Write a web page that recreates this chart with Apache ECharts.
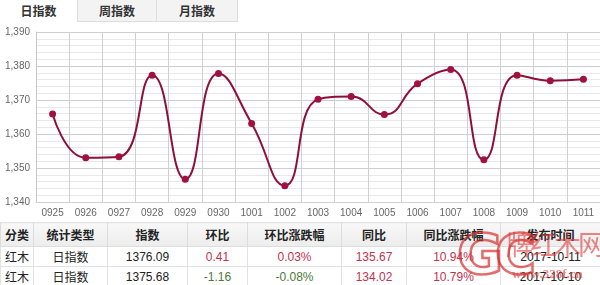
<!DOCTYPE html>
<html>
<head>
<meta charset="utf-8">
<script src="https://cdn.jsdelivr.net/npm/echarts@6/dist/echarts.min.js"></script>
<style>
  html, body { margin:0; padding:0; background:#fff; }
  body { width:600px; height:285px; position:relative; overflow:hidden; font-family:"Liberation Sans","Noto Sans CJK SC",sans-serif; }
  #chart { position:absolute; left:0; top:0; width:600px; height:222px; }
  .tab { position:absolute; top:0; height:22px; line-height:22px; text-align:center; font-size:12px; font-weight:bold; color:#333; font-family:"Noto Sans CJK SC",sans-serif; box-sizing:border-box; }
  #t1 { left:0; width:77px; background:#fff; }
  #t2 { left:77px; width:80px; background:#f3f3f3; border:1px solid #ddd; border-top:none; }
  #t3 { left:156px; width:82px; background:#f3f3f3; border:1px solid #ddd; border-top:none; }
  table { position:absolute; left:0; top:222px; width:600px; border-collapse:collapse; font-size:12px; color:#222; font-family:"Liberation Sans","Noto Sans CJK SC",sans-serif; table-layout:fixed; }
  th { height:23px; padding:0; background:linear-gradient(#f8f8f8,#ececec); font-weight:bold; border:1px solid #ddd; border-top:1px solid #e4e4e4; font-family:"Noto Sans CJK SC",sans-serif; }
  td { height:19px; padding:0; text-align:center; border:1px solid #e2e2e2; }
  .l { text-align:left; padding-left:4px; }
  .r { color:#c0334f; }
  .g { color:#4b7a3a; }
  .wm { position:absolute; white-space:nowrap; pointer-events:none; }
  #wm1 { left:457px; top:222px; font-size:56px; font-weight:bold; color:rgba(255,255,255,0); -webkit-text-stroke:2.5px rgba(215,45,45,0.7); font-family:"DejaVu Sans",sans-serif; letter-spacing:-8px; line-height:64px; }
  #wm2 { left:506px; top:228px; font-size:27px; color:rgba(225,55,55,0.6); font-family:"Noto Sans CJK SC",sans-serif; line-height:32px; letter-spacing:-3px; }
  #wm3 { left:512px; top:266px; font-size:13px; font-weight:bold; color:rgba(225,55,55,0.6); font-family:"Liberation Serif",serif; line-height:16px; }
</style>
</head>
<body>
<div id="chart"></div>
<div class="tab" id="t1">日指数</div>
<div class="tab" id="t2">周指数</div>
<div class="tab" id="t3">月指数</div>
<table>
  <colgroup>
    <col style="width:33px"><col style="width:74px"><col style="width:80px"><col style="width:60px"><col style="width:94px"><col style="width:65px"><col style="width:94px"><col style="width:100px">
  </colgroup>
  <tr><th class="l">分类</th><th>统计类型</th><th>指数</th><th>环比</th><th>环比涨跌幅</th><th>同比</th><th>同比涨跌幅</th><th>发布时间</th></tr>
  <tr><td class="l">红木</td><td>日指数</td><td>1376.09</td><td class="r">0.41</td><td class="r">0.03%</td><td class="r">135.67</td><td class="r">10.94%</td><td>2017-10-11</td></tr>
  <tr><td class="l">红木</td><td>日指数</td><td>1375.68</td><td class="g">-1.16</td><td class="g">-0.08%</td><td class="r">134.02</td><td class="r">10.79%</td><td>2017-10-10</td></tr>
</table>
<div class="wm" id="wm1">GC</div>
<div class="wm" id="wm2">牌红木网</div>
<div class="wm" id="wm3">www.328f.cn</div>
<script>
var categories = ["0925","0926","0927","0928","0929","0930","1001","1002","1003","1004","1005","1006","1007","1008","1009","1010","1011"];
var indexValues = [1365.9, 1353.0, 1353.3, 1377.3, 1346.7, 1377.8, 1363.1, 1344.8, 1370.2, 1371.0, 1365.7, 1374.8, 1379.0, 1352.4, 1377.3, 1375.68, 1376.09];
var yTicks = [1340, 1350, 1360, 1370, 1380, 1390];

var chart = echarts.init(document.getElementById('chart'));
chart.setOption({
  animation: false,
  grid: { left: 36, top: 32, width: 565, height: 170 },
  xAxis: {
    type: 'category',
    data: categories,
    boundaryGap: true,
    axisLine: { show: true, lineStyle: { color: '#d0d0d0' } },
    axisTick: { show: false },
    axisLabel: { color: '#666', fontSize: 10, margin: 6, fontFamily: 'Liberation Sans' },
    splitLine: { show: true, lineStyle: { color: '#d0d0d0', width: 1 } }
  },
  yAxis: {
    type: 'value',
    min: yTicks[0],
    max: yTicks[yTicks.length - 1],
    interval: 10,
    axisLine: { show: true, lineStyle: { color: '#c8c8c8' } },
    axisTick: { show: false },
    axisLabel: {
      color: '#666', fontSize: 10, margin: 6, fontFamily: 'Liberation Sans',
      formatter: function (v) { return echarts.format.addCommas(v); }
    },
    splitLine: { show: true, lineStyle: { color: '#cfcfcf' } },
    minorTick: { show: false, splitNumber: 5 },
    minorSplitLine: { show: true, lineStyle: { color: '#e8e8e8' } }
  },
  series: [{
    type: 'line',
    data: indexValues,
    smooth: 0.5,
    symbol: 'circle',
    symbolSize: 7,
    lineStyle: { color: '#8e0f3a', width: 2 },
    itemStyle: { color: '#a0113f' }
  }]
});
</script>
</body>
</html>
